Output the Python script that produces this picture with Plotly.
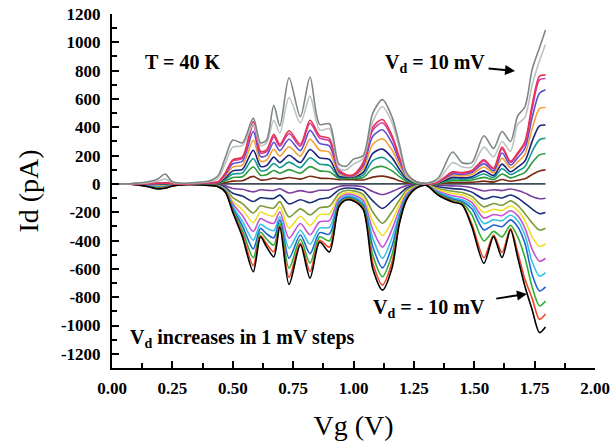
import plotly.graph_objects as go

# Gate voltage grid (V)
VG = [0.00, 0.05, 0.10, 0.15, 0.19, 0.22, 0.25, 0.30, 0.35, 0.40,
      0.44, 0.47, 0.50, 0.54, 0.585, 0.615, 0.64, 0.67, 0.695, 0.733,
      0.78, 0.82, 0.86, 0.90, 0.94, 0.97, 1.00, 1.04, 1.08, 1.12,
      1.16, 1.19, 1.22, 1.26, 1.30, 1.35, 1.41, 1.45, 1.49, 1.54,
      1.58, 1.615, 1.65, 1.68, 1.71, 1.74, 1.77, 1.795]

# Drain current (pA) for each drain voltage
ID_P10 = [0,0,5,15,35,70,15,5,10,20,60,190,310,290,465,290,310,555,410,750,475,755,420,425,140,125,175,200,500,595,470,280,80,15,5,40,225,150,150,340,250,370,300,480,545,810,960,1087]
ID_P9 = [0,0,3,8,20,35,10,3,8,15,40,150,260,270,420,270,290,450,360,610,430,620,380,390,110,100,140,180,440,545,430,250,60,10,3,25,150,120,120,260,190,300,230,420,470,700,870,985]
ID_P8 = [0,0,2,3,5,8,3,0,5,10,15,80,170,190,440,230,240,350,280,375,280,450,340,320,100,65,65,150,400,455,340,190,70,15,0,15,85,80,95,170,110,260,160,220,300,560,760,770]
ID_P7 = [0,0,2,3,5,7,3,0,5,9,14,76,162,180,418,218,228,332,266,356,266,428,323,304,95,62,62,142,380,432,323,180,66,14,0,14,81,76,90,162,105,247,152,209,285,532,735,745]
ID_P6 = [0,0,2,3,4,7,3,0,4,8,13,67,143,160,370,193,202,294,235,315,235,378,286,269,84,60,60,126,336,382,286,160,59,13,0,13,71,67,80,143,92,218,134,185,252,470,640,665]
ID_P5 = [0,0,1,2,4,6,2,0,4,7,11,56,119,133,308,161,168,245,196,263,196,315,238,224,70,55,55,105,280,319,238,133,49,11,0,11,60,56,67,119,77,182,112,154,210,392,532,539]
ID_P4 = [0,0,1,2,3,4,2,0,3,5,8,43,92,103,238,124,130,189,151,203,151,243,184,173,54,50,50,81,216,246,184,103,38,8,0,8,46,43,51,92,59,140,86,119,162,302,410,416]
ID_P3 = [0,0,1,1,2,3,1,0,2,4,6,33,70,78,180,94,98,144,115,154,115,185,139,131,45,45,45,62,164,187,139,78,29,6,0,6,35,33,39,70,45,107,66,90,123,230,312,322]
ID_P2 = [0,0,1,1,1,2,1,0,1,3,4,22,46,51,119,62,65,95,76,101,76,122,92,86,38,38,38,45,108,123,92,51,19,4,0,4,23,22,26,46,30,70,43,59,81,151,205,215]
ID_P1 = [0,0,0,0,1,1,0,0,1,1,2,10,20,23,53,28,29,42,34,45,34,54,41,38,30,30,30,28,48,55,41,23,8,2,0,2,10,10,11,20,13,31,19,26,36,67,91,99]
ID_0 = [0,0,0,0,0,0,0,0,0,0,0,0,0,0,0,0,0,0,0,0,0,0,0,0,0,0,0,0,0,0,0,0,0,0,0,0,0,0,0,0,0,0,0,0,0,0,0,0]
ID_N1 = [0,0,-1,-2,-3,-3,-1,0,0,-1,-4,-13,-32,-38,-56,-41,-45,-46,-34,-64,-47,-60,-45,-43,-18,-12,-13,-20,-54,-75,-53,-31,-12,-3,-1,-9,-14,-16,-27,-50,-41,-47,-36,-47,-65,-89,-105,-101]
ID_N2 = [0,0,-1,-4,-7,-6,-3,-1,-1,-3,-8,-25,-66,-86,-124,-98,-102,-103,-79,-142,-112,-133,-107,-96,-42,-29,-31,-47,-120,-173,-118,-73,-29,-8,-3,-20,-33,-38,-58,-106,-89,-99,-78,-99,-138,-178,-210,-202]
ID_N3 = [0,0,-2,-6,-11,-10,-5,-2,-2,-4,-11,-34,-96,-139,-205,-154,-165,-170,-125,-234,-176,-219,-168,-158,-66,-46,-49,-74,-198,-278,-195,-115,-45,-12,-4,-32,-52,-61,-88,-162,-138,-151,-120,-151,-210,-276,-326,-313]
ID_N4 = [0,0,-2,-8,-15,-13,-6,-2,-2,-5,-13,-40,-120,-182,-273,-199,-216,-227,-162,-312,-228,-293,-217,-211,-85,-60,-64,-95,-264,-364,-260,-148,-58,-16,-5,-41,-67,-78,-109,-202,-179,-187,-156,-187,-261,-374,-441,-424]
ID_N5 = [0,0,-3,-10,-18,-16,-8,-3,-3,-6,-15,-44,-140,-223,-335,-244,-265,-278,-198,-383,-280,-359,-267,-259,-104,-73,-78,-117,-324,-446,-319,-182,-72,-20,-7,-51,-83,-96,-130,-241,-216,-224,-189,-224,-312,-463,-546,-525]
ID_N6 = [0,0,-3,-12,-22,-19,-9,-3,-3,-7,-17,-48,-158,-263,-397,-285,-312,-330,-232,-454,-327,-426,-312,-307,-122,-86,-91,-137,-384,-525,-378,-213,-84,-23,-8,-59,-97,-112,-152,-280,-253,-260,-221,-260,-363,-552,-651,-626]
ID_N7 = [0,0,-4,-15,-26,-22,-11,-4,-4,-8,-18,-52,-172,-296,-459,-315,-352,-381,-256,-525,-361,-492,-344,-355,-134,-95,-101,-151,-444,-593,-437,-235,-92,-25,-8,-66,-107,-124,-176,-325,-290,-302,-254,-302,-421,-641,-756,-727]
ID_N8 = [0,0,-4,-18,-30,-25,-13,-4,-4,-9,-19,-55,-184,-328,-521,-341,-389,-433,-278,-596,-391,-559,-373,-403,-146,-103,-109,-164,-504,-656,-496,-255,-100,-27,-9,-71,-116,-135,-218,-403,-335,-374,-293,-374,-522,-730,-861,-828]
ID_N9 = [0,0,-5,-20,-33,-28,-14,-5,-5,-10,-20,-58,-194,-356,-577,-364,-423,-479,-296,-660,-417,-618,-398,-446,-155,-110,-116,-175,-558,-713,-549,-272,-107,-29,-10,-76,-123,-144,-282,-521,-361,-484,-315,-484,-674,-810,-956,-919]
ID_N10 = [0,0,-5,-20,-35,-30,-15,-5,-5,-10,-20,-60,-200,-375,-620,-375,-445,-515,-305,-710,-430,-665,-410,-480,-160,-113,-120,-180,-600,-750,-590,-280,-110,-30,-10,-78,-127,-148,-303,-560,-372,-520,-325,-520,-725,-890,-1050,-1010]

VD_LABELS = ["0 mV", "-1 mV", "-2 mV", "-3 mV", "-4 mV", "-5 mV", "-6 mV", "-7 mV", "-8 mV", "-9 mV", "-10 mV",
             "1 mV", "2 mV", "3 mV", "4 mV", "5 mV", "6 mV", "7 mV", "8 mV", "9 mV", "10 mV"]
SERIES = [ID_0, ID_N1, ID_N2, ID_N3, ID_N4, ID_N5, ID_N6, ID_N7, ID_N8, ID_N9, ID_N10,
          ID_P1, ID_P2, ID_P3, ID_P4, ID_P5, ID_P6, ID_P7, ID_P8, ID_P9, ID_P10]
COLORS = ["#3e4f5c", "#7b3fa0", "#1c2f7a", "#7f9a3a", "#f0e024", "#c454d4", "#34c2e4", "#2262d2",
          "#2fb034", "#f0451f", "#000000",
          "#7a2c12", "#2e9a3a", "#14998c", "#1a237e", "#f5a030", "#5b4fd0", "#d23ca8", "#e8324e",
          "#bcc2c2", "#7d8585"]

X_TICKS = [0.0, 0.25, 0.5, 0.75, 1.0, 1.25, 1.5, 1.75, 2.0]
X_TICK_LABELS = ["0.00", "0.25", "0.50", "0.75", "1.00", "1.25", "1.50", "1.75", "2.00"]
Y_TICKS = [-1200, -1000, -800, -600, -400, -200, 0, 200, 400, 600, 800, 1000, 1200]
Y_TICK_LABELS = ["-1200", "-1000", "-800", "-600", "-400", "-200", "0", "200", "400", "600", "800", "1000", "1200"]

for s in SERIES:
    assert len(s) == len(VG)

FONT = "Liberation Serif, Times New Roman, serif"

fig = go.Figure()
for name, ys, col in zip(VD_LABELS, SERIES, COLORS):
    fig.add_trace(go.Scatter(x=VG, y=ys, mode="lines", name=name,
                             line=dict(color=col, width=1.6, shape="spline", smoothing=0.8)))

axis_common = dict(showline=True, linecolor="black", linewidth=2, mirror=False,
                   showgrid=False, zeroline=False, ticks="inside", ticklen=7,
                   tickwidth=1.5, tickcolor="black", automargin=False,
                   ticklabeloverflow="allow",
                   tickfont=dict(family=FONT, size=17, color="black", weight="bold"))

fig.update_layout(
    width=612, height=444,
    margin=dict(l=112, r=17, t=14, b=76),
    plot_bgcolor="white", paper_bgcolor="white",
    showlegend=False,
    font=dict(family=FONT, color="black"),
    xaxis=dict(range=[0, 2], tickmode="array", tickvals=X_TICKS, ticktext=X_TICK_LABELS,
               minor=dict(tickmode="linear", tick0=0, dtick=0.125, ticks="inside", ticklen=5,
                          tickwidth=1.5, tickcolor="black"),
               ticklabelstandoff=4,
               title=dict(text="Vg (V)", font=dict(family=FONT, size=28), standoff=18),
               **axis_common),
    yaxis=dict(range=[-1300, 1200], tickmode="array", tickvals=Y_TICKS, ticktext=Y_TICK_LABELS,
               minor=dict(tickmode="linear", tick0=0, dtick=100, ticks="inside", ticklen=5,
                          tickwidth=1.5, tickcolor="black"),
               ticklabelstandoff=6,
               title=dict(text="Id (pA)", font=dict(family=FONT, size=28), standoff=14),
               **axis_common),
)

ann_font = dict(family=FONT, size=20, color="black", weight="bold")
fig.add_annotation(x=0.128, y=861, text="T = 40 K", showarrow=False, xanchor="left",
                   yanchor="middle", font=ann_font)
fig.add_annotation(x=0.066, y=-1094, text="V<sub>d</sub> increases in 1 mV steps",
                   showarrow=False, xanchor="left", yanchor="middle", font=ann_font)
fig.add_annotation(x=1.669, y=798, text="V<sub>d</sub> = 10 mV", showarrow=True,
                   ax=-80, ay=-7, startstandoff=2,
                   arrowhead=2, arrowsize=1, arrowwidth=2, arrowcolor="black", font=ann_font)
fig.add_annotation(x=1.718, y=-777, text="V<sub>d</sub> = - 10 mV", showarrow=True,
                   ax=-98, ay=15, startstandoff=10,
                   arrowhead=2, arrowsize=1, arrowwidth=2, arrowcolor="black", font=ann_font)

fig.write_html("out.html", config={"displayModeBar": False},
               post_script="document.body.style.margin='0';")
